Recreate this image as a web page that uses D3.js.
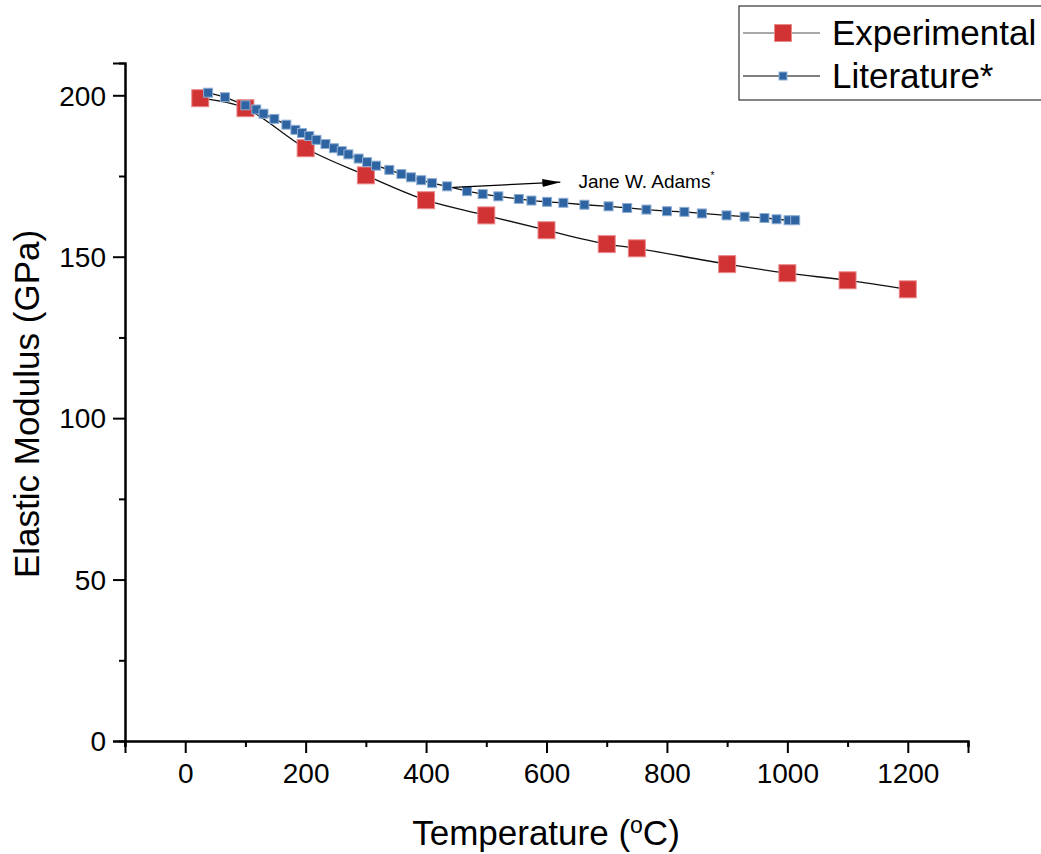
<!DOCTYPE html>
<html>
<head>
<meta charset="utf-8">
<script src="https://cdn.jsdelivr.net/npm/d3@7/dist/d3.min.js"></script>
<style>
  html, body { margin: 0; padding: 0; background: #fff; }
  svg { display: block; font-family: "Liberation Sans", Arial, sans-serif; }
</style>
</head>
<body>
<svg id="chart" width="1041" height="854"></svg>
<script>
// ---- data ----
const expTemp = [25, 100, 200, 300, 400, 500, 600, 700, 750, 900, 1000, 1100, 1200];
const expModulus = [199.1, 196.0, 183.6, 175.2, 167.5, 162.8, 158.2, 153.9, 152.6, 147.7, 144.9, 142.7, 139.9];

const litTemp = [38, 66, 100, 118, 130, 148, 168, 183, 194, 206, 218, 233, 247, 260, 271, 288, 302, 317, 339, 359,
  375, 392, 410, 435, 468, 494, 520, 554, 575, 601, 628, 663, 703, 734, 766, 800, 829, 858, 899, 929, 962, 982, 1002, 1013];
const litModulus = [200.8, 199.4, 196.9, 195.6, 194.3, 192.7, 190.9, 189.3, 188.3, 187.4, 186.2, 184.9, 183.6, 182.7,
  181.7, 180.4, 179.3, 178.2, 176.9, 175.6, 174.6, 173.7, 172.8, 171.8, 170.3, 169.4, 168.7, 167.9, 167.4, 167.0,
  166.7, 166.1, 165.6, 165.1, 164.6, 164.1, 163.9, 163.4, 162.8, 162.4, 162.0, 161.6, 161.3, 161.3];

const xMajorTicks = [0, 200, 400, 600, 800, 1000, 1200];
const xMinorTicks = [-100, 100, 300, 500, 700, 900, 1100, 1300];
const yMajorTicks = [0, 50, 100, 150, 200];
const yMinorTicks = [25, 75, 125, 175];

const seriesNames = ["Experimental", "Literature*"];
const annotationText = "Jane W. Adams";
const annotationFrom = [445, 171.5];
const annotationTo = [623, 173.1];
const annotationTextAt = [653, 173.2];

// ---- chart ----
const svg = d3.select("#chart");
const x = d3.scaleLinear().domain([-100, 1300]).range([125, 968]);
const y = d3.scaleLinear().domain([0, 210]).range([741, 63]);

const axisColor = "#000";

// X axis
const gxMinor = svg.append("g").attr("transform", `translate(0,${y(0)})`)
  .call(d3.axisBottom(x).tickValues(xMinorTicks).tickSize(6).tickFormat(""));
const gx = svg.append("g").attr("transform", `translate(0,${y(0)})`)
  .call(d3.axisBottom(x).tickValues(xMajorTicks).tickSize(12).tickPadding(10).tickFormat(d3.format("d")));
// Y axis
const gyMinor = svg.append("g").attr("transform", `translate(${x(-100)},0)`)
  .call(d3.axisLeft(y).tickValues(yMinorTicks).tickSize(6).tickFormat(""));
const gy = svg.append("g").attr("transform", `translate(${x(-100)},0)`)
  .call(d3.axisLeft(y).tickValues(yMajorTicks).tickSize(12).tickPadding(7).tickFormat(d3.format("d")));

[gxMinor, gx, gyMinor, gy].forEach(g => {
  g.select(".domain").attr("stroke", axisColor).attr("stroke-width", 2);
  g.selectAll(".tick line").attr("stroke", axisColor).attr("stroke-width", 2);
  g.selectAll(".tick text").attr("fill", "#000").style("font-size", "28px")
    .style("font-family", "'Liberation Sans', Arial, sans-serif");
});
gx.selectAll(".tick text").attr("dy", "0.72em");
gy.selectAll(".tick text").attr("dy", "0.35em");
// small extension of y axis below x axis
svg.append("line").attr("x1", x(-100)).attr("x2", x(-100))
  .attr("y1", y(0)).attr("y2", y(0) + 6).attr("stroke", "#000").attr("stroke-width", 2);

// Axis titles
const xt = svg.append("text").attr("x", 546).attr("y", 845).attr("text-anchor", "middle")
  .style("font-size", "35px").attr("fill", "#000");
xt.append("tspan").text("Temperature (");
xt.append("tspan").text("o").style("font-size", "23px").attr("dy", -12);
xt.append("tspan").text("C)").attr("dy", 12);

svg.append("text").attr("transform", "translate(39,404) rotate(-90)").attr("text-anchor", "middle")
  .style("font-size", "35px").attr("fill", "#000").text("Elastic Modulus (GPa)");

// Lines
const expData = expTemp.map((t, i) => [t, expModulus[i]]);
const litData = litTemp.map((t, i) => [t, litModulus[i]]);

svg.append("path").datum(expData)
  .attr("d", d3.line().x(d => x(d[0])).y(d => y(d[1])).curve(d3.curveCatmullRom.alpha(0.5)))
  .attr("fill", "none").attr("stroke", "#111").attr("stroke-width", 1.3);
svg.append("path").datum(litData)
  .attr("d", d3.line().x(d => x(d[0])).y(d => y(d[1])))
  .attr("fill", "none").attr("stroke", "#111").attr("stroke-width", 1.3);

// Markers
const rs = 17, bs = 9;
svg.append("g").selectAll("rect").data(expData).join("rect")
  .attr("x", d => x(d[0]) - rs / 2).attr("y", d => y(d[1]) - rs / 2)
  .attr("width", rs).attr("height", rs)
  .attr("fill", "#d13234").attr("stroke", "#e98a8c").attr("stroke-width", 1);
svg.append("g").selectAll("rect").data(litData).join("rect")
  .attr("x", d => x(d[0]) - bs / 2).attr("y", d => y(d[1]) - bs / 2)
  .attr("width", bs).attr("height", bs)
  .attr("fill", "#2f64a3").attr("stroke", "#8eaed3").attr("stroke-width", 1);

// Annotation
const defs = svg.append("defs");
defs.append("marker").attr("id", "arrow").attr("viewBox", "0 0 18 8")
  .attr("refX", 18).attr("refY", 4).attr("markerWidth", 18).attr("markerHeight", 8)
  .attr("markerUnits", "userSpaceOnUse").attr("orient", "auto")
  .append("path").attr("d", "M0,0 L18,4 L0,8 Z").attr("fill", "#000");
svg.append("line")
  .attr("x1", x(annotationFrom[0])).attr("y1", y(annotationFrom[1]))
  .attr("x2", x(annotationTo[0])).attr("y2", y(annotationTo[1]))
  .attr("stroke", "#000").attr("stroke-width", 1.3).attr("marker-end", "url(#arrow)");
const at = svg.append("text").attr("x", x(annotationTextAt[0])).attr("y", y(annotationTextAt[1]) + 6)
  .style("font-size", "19px").attr("fill", "#000");
at.append("tspan").text(annotationText);
at.append("tspan").text("*").style("font-size", "10px").attr("dy", -9);

// Legend
const lg = svg.append("g");
lg.append("rect").attr("x", 739).attr("y", 6).attr("width", 320).attr("height", 94)
  .attr("fill", "#fff").attr("stroke", "#333").attr("stroke-width", 1.2);
const legendItems = [
  { name: seriesNames[0], cy: 33, lineColor: "#555", fill: "#d13234", stroke: "#e98a8c", size: 17 },
  { name: seriesNames[1], cy: 76, lineColor: "#000", fill: "#2f64a3", stroke: "#8eaed3", size: 8 }
];
legendItems.forEach(it => {
  lg.append("line").attr("x1", 743).attr("x2", 820).attr("y1", it.cy).attr("y2", it.cy)
    .attr("stroke", it.lineColor).attr("stroke-width", 1.2);
  lg.append("rect").attr("x", 783 - it.size / 2).attr("y", it.cy - it.size / 2)
    .attr("width", it.size).attr("height", it.size).attr("fill", it.fill).attr("stroke", it.stroke);
  lg.append("text").attr("x", 832).attr("y", it.cy + 12).style("font-size", "35px")
    .attr("fill", "#000").text(it.name);
});
</script>
</body>
</html>
